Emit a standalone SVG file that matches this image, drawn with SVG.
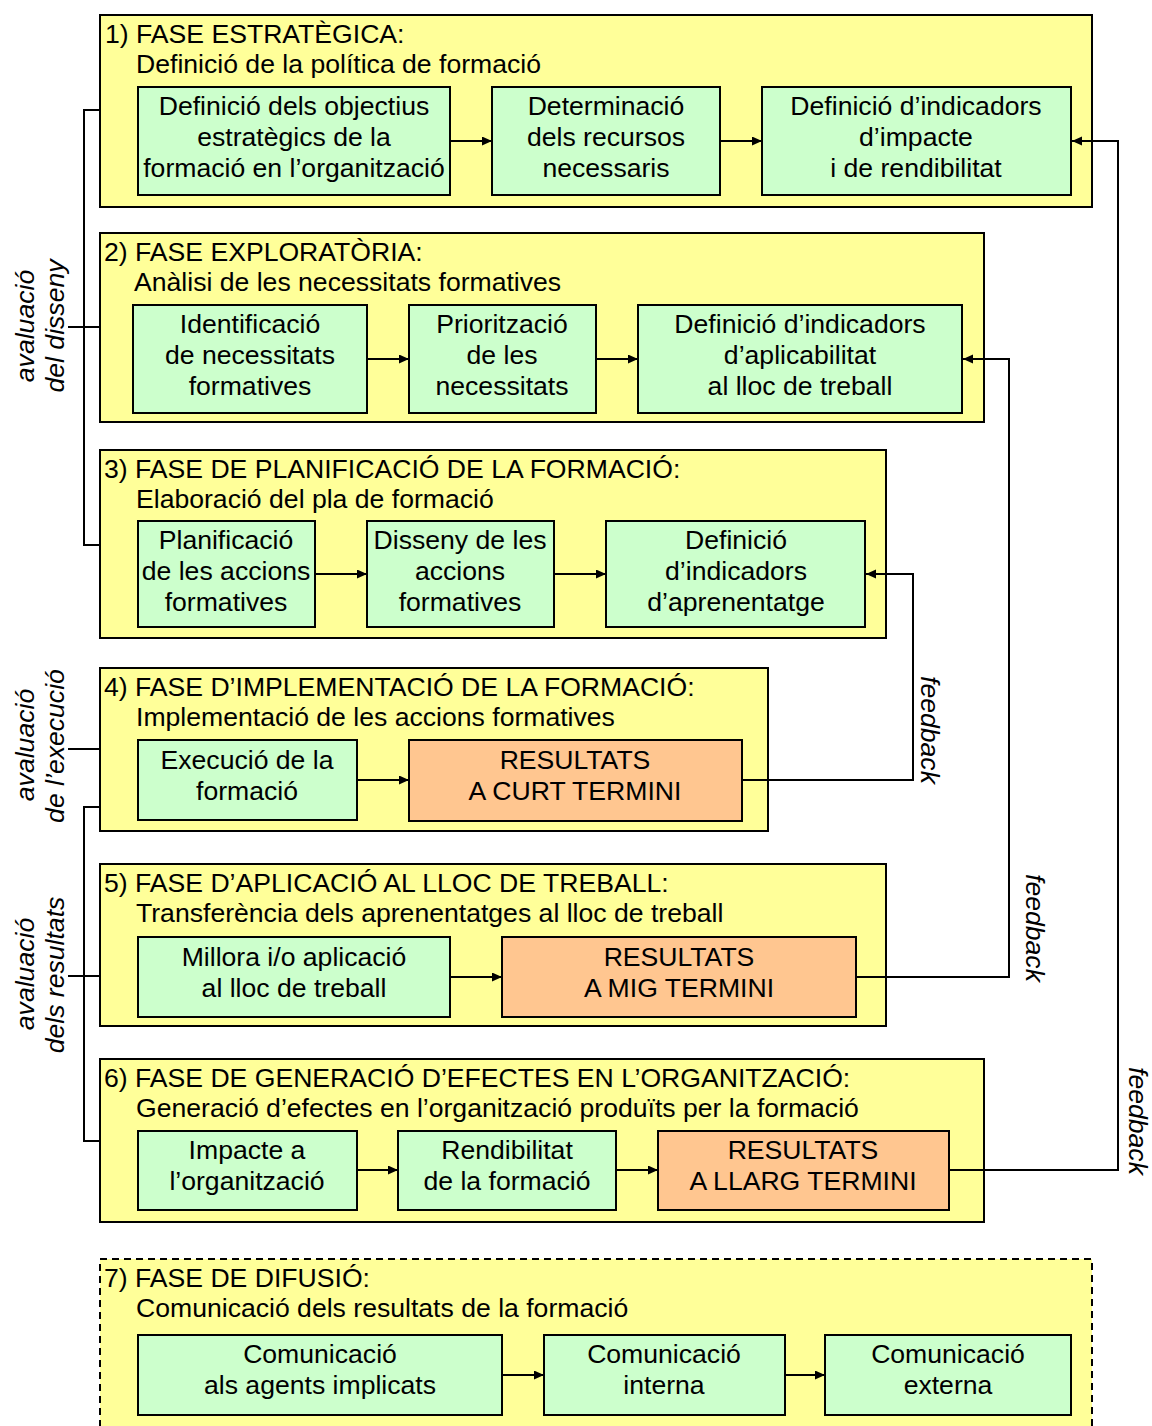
<svg xmlns="http://www.w3.org/2000/svg" width="1152" height="1426" viewBox="0 0 1152 1426">
<style>
text{font-family:"Liberation Sans",Arial,sans-serif;font-size:26.6px;fill:#000}
.c{text-anchor:middle}
.it{font-style:italic}
.phase{fill:#FFFF99;stroke:#000;stroke-width:2}
.dash{stroke-dasharray:7 5}
.g{fill:#CCFFCC;stroke:#000;stroke-width:2}
.o{fill:#FFC690;stroke:#000;stroke-width:2}
.ln{fill:none;stroke:#000;stroke-width:2}
</style>
<defs>
<marker id="ah" markerUnits="userSpaceOnUse" markerWidth="11" markerHeight="10" refX="10" refY="4.5" orient="auto">
<path d="M0,0 L10,4.5 L0,9 z" fill="#000"/>
</marker>
</defs>
<rect width="1152" height="1426" fill="#fff"/>

<g id="phase1">
<rect class="phase" x="100" y="15" width="992" height="192"/>
<text x="105" y="43">1) FASE ESTRATÈGICA:</text>
<text x="136" y="73">Definició de la política de formació</text>
</g>
<g id="n1a"><rect class="g" x="138" y="87" width="312" height="108"/>
<text class="c" x="294" y="115">Definició dels objectius</text><text class="c" x="294" y="146">estratègics de la</text><text class="c" x="294" y="177">formació en l’organització</text></g>
<g id="n1b"><rect class="g" x="492" y="87" width="228" height="108"/>
<text class="c" x="606" y="115">Determinació</text><text class="c" x="606" y="146">dels recursos</text><text class="c" x="606" y="177">necessaris</text></g>
<g id="n1c"><rect class="g" x="762" y="87" width="309" height="108"/>
<text class="c" x="916" y="115">Definició d’indicadors</text><text class="c" x="916" y="146">d’impacte</text><text class="c" x="916" y="177">i de rendibilitat</text></g>

<g id="phase2">
<rect class="phase" x="100" y="233" width="884" height="189"/>
<text x="104" y="261">2) FASE EXPLORATÒRIA:</text>
<text x="134" y="291">Anàlisi de les necessitats formatives</text>
</g>
<g id="n2a"><rect class="g" x="133" y="305" width="234" height="108"/>
<text class="c" x="250" y="333">Identificació</text><text class="c" x="250" y="364">de necessitats</text><text class="c" x="250" y="395">formatives</text></g>
<g id="n2b"><rect class="g" x="409" y="305" width="187" height="108"/>
<text class="c" x="502" y="333">Priorització</text><text class="c" x="502" y="364">de les</text><text class="c" x="502" y="395">necessitats</text></g>
<g id="n2c"><rect class="g" x="638" y="305" width="324" height="108"/>
<text class="c" x="800" y="333">Definició d’indicadors</text><text class="c" x="800" y="364">d’aplicabilitat</text><text class="c" x="800" y="395">al lloc de treball</text></g>

<g id="phase3">
<rect class="phase" x="100" y="450" width="786" height="188"/>
<text x="104" y="478">3) FASE DE PLANIFICACIÓ DE LA FORMACIÓ:</text>
<text x="136" y="508">Elaboració del pla de formació</text>
</g>
<g id="n3a"><rect class="g" x="138" y="521" width="177" height="106"/>
<text class="c" x="226" y="549">Planificació</text><text class="c" x="226" y="580">de les accions</text><text class="c" x="226" y="611">formatives</text></g>
<g id="n3b"><rect class="g" x="367" y="521" width="187" height="106"/>
<text class="c" x="460" y="549">Disseny de les</text><text class="c" x="460" y="580">accions</text><text class="c" x="460" y="611">formatives</text></g>
<g id="n3c"><rect class="g" x="606" y="521" width="259" height="106"/>
<text class="c" x="736" y="549">Definició</text><text class="c" x="736" y="580">d’indicadors</text><text class="c" x="736" y="611">d’aprenentatge</text></g>

<g id="phase4">
<rect class="phase" x="100" y="668" width="668" height="163"/>
<text x="104" y="696">4) FASE D’IMPLEMENTACIÓ DE LA FORMACIÓ:</text>
<text x="136" y="726">Implementació de les accions formatives</text>
</g>
<g id="n4a"><rect class="g" x="138" y="740" width="219" height="80"/>
<text class="c" x="247" y="769">Execució de la</text><text class="c" x="247" y="800">formació</text></g>
<g id="n4b"><rect class="o" x="409" y="740" width="333" height="81"/>
<text class="c" x="575" y="769">RESULTATS</text><text class="c" x="575" y="800">A CURT TERMINI</text></g>

<g id="phase5">
<rect class="phase" x="100" y="864" width="786" height="162"/>
<text x="104" y="892">5) FASE D’APLICACIÓ AL LLOC DE TREBALL:</text>
<text x="136" y="922">Transferència dels aprenentatges al lloc de treball</text>
</g>
<g id="n5a"><rect class="g" x="138" y="937" width="312" height="80"/>
<text class="c" x="294" y="966">Millora i/o aplicació</text><text class="c" x="294" y="997">al lloc de treball</text></g>
<g id="n5b"><rect class="o" x="502" y="937" width="354" height="80"/>
<text class="c" x="679" y="966">RESULTATS</text><text class="c" x="679" y="997">A MIG TERMINI</text></g>

<g id="phase6">
<rect class="phase" x="100" y="1059" width="884" height="163"/>
<text x="104" y="1087">6) FASE DE GENERACIÓ D’EFECTES EN L’ORGANITZACIÓ:</text>
<text x="136" y="1117">Generació d’efectes en l’organització produïts per la formació</text>
</g>
<g id="n6a"><rect class="g" x="138" y="1131" width="219" height="79"/>
<text class="c" x="247" y="1159">Impacte a</text><text class="c" x="247" y="1190">l’organització</text></g>
<g id="n6b"><rect class="g" x="398" y="1131" width="218" height="79"/>
<text class="c" x="507" y="1159">Rendibilitat</text><text class="c" x="507" y="1190">de la formació</text></g>
<g id="n6c"><rect class="o" x="658" y="1131" width="291" height="79"/>
<text class="c" x="803" y="1159">RESULTATS</text><text class="c" x="803" y="1190">A LLARG TERMINI</text></g>

<g id="phase7">
<rect class="phase dash" x="100" y="1259" width="992" height="190"/>
<text x="104" y="1287">7) FASE DE DIFUSIÓ:</text>
<text x="136" y="1317">Comunicació dels resultats de la formació</text>
</g>
<g id="n7a"><rect class="g" x="138" y="1335" width="364" height="80"/>
<text class="c" x="320" y="1363">Comunicació</text><text class="c" x="320" y="1394">als agents implicats</text></g>
<g id="n7b"><rect class="g" x="544" y="1335" width="241" height="80"/>
<text class="c" x="664" y="1363">Comunicació</text><text class="c" x="664" y="1394">interna</text></g>
<g id="n7c"><rect class="g" x="825" y="1335" width="246" height="80"/>
<text class="c" x="948" y="1363">Comunicació</text><text class="c" x="948" y="1394">externa</text></g>

<g id="connectors">
<path class="ln" d="M450,141 H492" marker-end="url(#ah)"/>
<path class="ln" d="M720,141 H762" marker-end="url(#ah)"/>
<path class="ln" d="M367,359 H409" marker-end="url(#ah)"/>
<path class="ln" d="M596,359 H638" marker-end="url(#ah)"/>
<path class="ln" d="M315,574 H367" marker-end="url(#ah)"/>
<path class="ln" d="M554,574 H606" marker-end="url(#ah)"/>
<path class="ln" d="M357,780 H409" marker-end="url(#ah)"/>
<path class="ln" d="M450,977 H502" marker-end="url(#ah)"/>
<path class="ln" d="M357,1170 H398" marker-end="url(#ah)"/>
<path class="ln" d="M616,1170 H658" marker-end="url(#ah)"/>
<path class="ln" d="M502,1375 H544" marker-end="url(#ah)"/>
<path class="ln" d="M785,1375 H825" marker-end="url(#ah)"/>
<path class="ln" d="M742,780 H913 V574 H866" marker-end="url(#ah)"/>
<path class="ln" d="M856,977 H1009 V359 H963" marker-end="url(#ah)"/>
<path class="ln" d="M949,1170 H1118 V141 H1072" marker-end="url(#ah)"/>
<path class="ln" d="M100,110 H84 V545 H100 M68,327 H100"/>
<path class="ln" d="M68,749 H100"/>
<path class="ln" d="M100,807 H84 V1141 H100 M68,976 H100"/>
</g>

<g id="labels">
<text class="c it" transform="translate(34,326) rotate(-90)">avaluació</text>
<text class="c it" transform="translate(64,326) rotate(-90)">del disseny</text>
<text class="c it" transform="translate(34,745) rotate(-90)">avaluació</text>
<text class="c it" transform="translate(64,746) rotate(-90)">de l’execució</text>
<text class="c it" transform="translate(34,974) rotate(-90)">avaluació</text>
<text class="c it" transform="translate(64,975) rotate(-90)">dels resultats</text>
<text class="c it" transform="translate(921,730) rotate(90)">feedback</text>
<text class="c it" transform="translate(1026,928) rotate(90)">feedback</text>
<text class="c it" transform="translate(1129,1121) rotate(90)">feedback</text>
</g>
</svg>
